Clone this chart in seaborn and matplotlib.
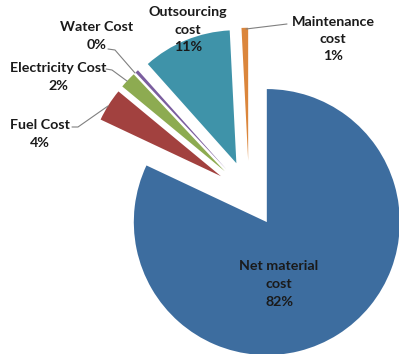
import matplotlib
matplotlib.use("Agg")
import matplotlib.pyplot as plt
import seaborn as sns

categories = ["Net material\ncost", "Fuel Cost", "Electricity Cost", "Water Cost",
              "Outsourcing\ncost", "Maintenance\ncost"]
values = [82.0, 4.0, 2.0, 0.4, 10.8, 0.8]
pct_labels = ["82%", "4%", "2%", "0%", "11%", "1%"]
colors = ["#3D6D9F", "#A2413F", "#8DAB51", "#7B5E9F", "#3F93A9", "#DB863C"]

sns.set_theme(style="white")
plt.rcParams["font.family"] = ["Lato", "DejaVu Sans"]

W, H, DPI = 399, 354, 100
fig = plt.figure(figsize=(W / DPI, H / DPI), dpi=DPI)
ax = fig.add_axes([0, 0, 1, 1])
ax.set_axis_off()

# pixel geometry of pie
cx, cy, R = 249, 194, 133

def P(px, py):
    return ((px - cx) / R, (cy - py) / R)

ax.pie(values, colors=colors, startangle=90, counterclock=False,
       explode=[0.25] * len(values), radius=1,
       wedgeprops=dict(linewidth=0))

ax.set_xlim(-cx / R, (W - cx) / R)
ax.set_ylim(-(H - cy) / R, cy / R)
ax.set_aspect("equal")

label_px = [(279, 284), (40, 134), (58, 77), (97, 36), (188, 29.5), (333, 39)]
for cat, pct, (px, py) in zip(categories, pct_labels, label_px):
    x, y = P(px, py)
    ax.text(x, y, f"{cat}\n{pct}", ha="center", va="center", fontsize=10.3,
            fontweight="bold", color="#1a1a1a", linespacing=1.55)

leaders = [
    [(287, 24), (246, 29)],
    [(108, 49), (115, 50), (135, 73)],
    [(106, 69), (112, 70), (127, 81)],
    [(72, 127), (78, 127), (108, 106)],
]
for pts in leaders:
    xs, ys = zip(*[P(a, b) for a, b in pts])
    ax.plot(xs, ys, color="#808080", linewidth=0.8)

fig.savefig("out.png", dpi=DPI)
